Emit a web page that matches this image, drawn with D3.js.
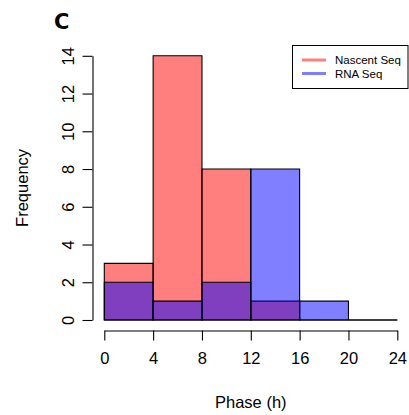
<!DOCTYPE html>
<html>
<head>
<meta charset="utf-8">
<script src="https://cdn.jsdelivr.net/npm/d3@7"></script>
<style>
  html, body { margin: 0; padding: 0; background: #fff; }
  svg { display: block; font-family: "Liberation Sans", Arial, Helvetica, sans-serif; }
</style>
</head>
<body>
<svg id="chart" width="409" height="415"></svg>
<script>
// Histogram bins of phase (hours) and counts per series
const binEdges = [0, 4, 8, 12, 16, 20, 24];
const nascentCounts = [3, 14, 8, 1, 0, 0];
const rnaCounts = [2, 1, 2, 8, 1, 0];
const xTicks = [0, 4, 8, 12, 16, 20, 24];
const yTicks = [0, 2, 4, 6, 8, 10, 12, 14];
const seriesNames = ["Nascent Seq", "RNA Seq"];
const seriesColors = ["rgba(255,0,0,0.5)", "rgba(0,0,255,0.5)"];

const svg = d3.select("#chart");

const x = d3.scaleLinear().domain([0, 24]).range([104.3, 397.3]);
const y = d3.scaleLinear().domain([0, 14]).range([320, 55.8]);

// Bars as closed paths so empty bins still show their outline on the baseline;
// red first, blue on top (semi-transparent overlap gives purple)
[nascentCounts, rnaCounts].forEach((counts, si) => {
  const bins = counts.map((c, i) => ({ x0: binEdges[i], x1: binEdges[i + 1], c }));
  svg.append("g").selectAll("path").data(bins).join("path")
    .attr("d", d => {
      const p = d3.path();
      p.moveTo(x(d.x0), y(0));
      p.lineTo(x(d.x0), y(d.c));
      p.lineTo(x(d.x1), y(d.c));
      p.lineTo(x(d.x1), y(0));
      p.closePath();
      return p.toString();
    })
    .attr("fill", seriesColors[si])
    .attr("stroke", "#000")
    .attr("stroke-width", 1.1);
});

// X axis (offset below the plot like R's axis)
const xAxis = svg.append("g").attr("transform", "translate(0,330.5)")
  .call(d3.axisBottom(x).tickValues(xTicks).tickSize(10).tickPadding(12).tickSizeOuter(0));
xAxis.select(".domain").attr("stroke", "#000").attr("stroke-width", 1.1);
xAxis.selectAll(".tick line").attr("stroke", "#000").attr("stroke-width", 1.1);
xAxis.selectAll("text").attr("font-size", 16.5).attr("fill", "#000")
  .attr("font-family", "Liberation Sans, Arial, sans-serif");

// Y axis
const yAxis = svg.append("g").attr("transform", "translate(92.5,0)")
  .call(d3.axisLeft(y).tickValues(yTicks).tickSize(10).tickSizeOuter(0));
yAxis.select(".domain").attr("stroke", "#000").attr("stroke-width", 1.1);
yAxis.selectAll(".tick line").attr("stroke", "#000").attr("stroke-width", 1.1);
yAxis.selectAll(".tick text")
  .attr("font-size", 16.5).attr("fill", "#000")
  .attr("font-family", "Liberation Sans, Arial, sans-serif")
  .attr("x", null).attr("dy", null)
  .attr("text-anchor", "middle")
  .attr("transform", "translate(-24,0) rotate(-90)")
  .attr("dy", "0.35em");

// Axis titles
svg.append("text").attr("x", x(12)).attr("y", 408)
  .attr("text-anchor", "middle").attr("font-size", 16.5).text("Phase (h)");
svg.append("text").attr("transform", `translate(28,${y(7)}) rotate(-90)`)
  .attr("text-anchor", "middle").attr("font-size", 16.5).text("Frequency");

// Panel label
svg.append("text").attr("x", 54).attr("y", 28.5)
  .attr("font-size", 21).attr("font-weight", "bold")
  .attr("font-family", "DejaVu Sans, sans-serif").text("C");

// Legend
const lg = svg.append("g");
lg.append("rect").attr("x", 292.5).attr("y", 45.5).attr("width", 115.5).attr("height", 43)
  .attr("fill", "#fff").attr("stroke", "#000").attr("stroke-width", 1);
seriesNames.forEach((name, i) => {
  const cy = 60 + i * 13.5;
  lg.append("line").attr("x1", 302).attr("x2", 326).attr("y1", cy).attr("y2", cy)
    .attr("stroke", seriesColors[i]).attr("stroke-width", 3);
  lg.append("text").attr("x", 335).attr("y", cy).attr("dy", "0.35em")
    .attr("font-size", 11.5).text(name);
});
</script>
</body>
</html>
